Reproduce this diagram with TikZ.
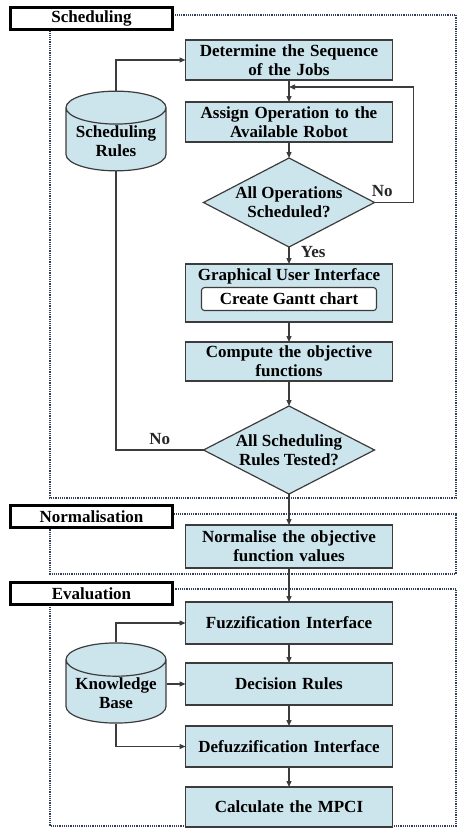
\documentclass[tikz,border=0pt]{standalone}
\usepackage{fontspec}
\setmainfont{Liberation Serif}
\usetikzlibrary{positioning,shapes.geometric,arrows.meta}

\definecolor{boxblue}{RGB}{204,228,236}
\definecolor{edgegray}{RGB}{60,60,60}
\definecolor{dotblue}{RGB}{50,62,90}

\newcommand{\boxfont}{\fontsize{17}{19}\selectfont\bfseries}

\tikzset{
  procbox/.style={draw=edgegray, line width=1.4pt, fill=boxblue, minimum width=207pt, minimum height=40pt, text width=200pt, align=center, inner sep=1pt, outer sep=0pt, font=\boxfont},
  decision/.style={diamond, draw=edgegray, line width=1.2pt, fill=boxblue, aspect=1.9, inner sep=0pt, outer sep=0pt, minimum width=171pt, minimum height=89pt},
  dectext/.style={align=center, font=\boxfont},
  store/.style={cylinder, shape border rotate=90, draw=edgegray, line width=1.2pt, fill=boxblue, aspect=0.4, minimum width=100pt, minimum height=72pt, align=center, inner sep=1pt, font=\boxfont, anchor=shape center},
  phase/.style={draw=black, line width=2.4pt, fill=white, minimum width=162pt, minimum height=22pt, inner sep=0pt, font=\boxfont},
  frame/.style={draw=dotblue, densely dotted, line width=1.2pt},
  flow/.style={draw=edgegray, line width=1.2pt, -{Triangle[length=6pt,width=5pt]}},
  link/.style={draw=edgegray, line width=1.2pt},
  answer/.style={font=\boxfont, text=black!85}
}

\begin{document}
\begin{tikzpicture}[x=1pt, y=-1pt]
    \useasboundingbox (0,0) rectangle (464,830);

    % dotted frames of the three phases
    \draw[frame] (50,15) rectangle (456,498);
    \draw[frame] (50,514) rectangle (456,574);
    \draw[frame] (50,589) rectangle (456,826);

    \node[phase] (sched) at (91.5,18.5) {Scheduling};
    \node[phase] (norm) at (91.5,516.5) {Normalisation};
    \node[phase] (eval) at (91.5,593.5) {Evaluation};

    % scheduling
    \node[procbox] (det) at (289,60) {Determine the Sequence\\of the Jobs};
    \node[procbox, below=22pt of det] (assign) {Assign Operation to the\\Available Robot};
    \node[decision, below=16pt of assign, label={[dectext]center:All Operations\\Scheduled?}] (allop) {};
    \node[procbox, below=17pt of allop, minimum height=58pt] (gui) {};
    \node[anchor=north, font=\boxfont, inner sep=2pt] (guitxt) at ([yshift=-2pt]gui.north) {Graphical User Interface};
    \node[draw=edgegray, line width=1.1pt, fill=white, rounded corners=3pt, minimum width=175pt, minimum height=23pt, inner sep=0pt, font=\boxfont, below=1pt of guitxt] (gantt) {Create Gantt chart};
    \node[procbox, below=20pt of gui, minimum height=39pt] (objf) {Compute the objective\\functions};
    \node[decision, below=25pt of objf, minimum height=88pt, label={[dectext]center:All Scheduling\\Rules Tested?}] (alltest) {};
    \node[store] (rules) at (116,131) {Scheduling\\Rules};
    \coordinate[below=7pt of det] (loopin);

    % normalisation
    \node[procbox, below=31pt of alltest, minimum height=43pt] (normv) {Normalise the objective\\function values};

    % evaluation
    \node[procbox, below=34pt of normv, minimum height=42pt] (fuzz) {Fuzzification Interface};
    \node[procbox, below=19pt of fuzz, minimum height=42pt] (rulesdec) {Decision Rules};
    \node[procbox, below=21pt of rulesdec, minimum height=41pt] (defuzz) {Defuzzification Interface};
    \node[procbox, below=20pt of defuzz] (mpci) {Calculate the MPCI};
    \node[store] (kb) at (116,683) {Knowledge\\Base};

    \draw[flow] (det) -- (assign);
    \draw[flow] (assign) -- (allop);
    \draw[flow] (allop) -- node[answer, right, pos=0.3, xshift=8pt] {Yes} (gui);
    \draw[flow] (allop.east) -- node[answer, above, pos=0.2, yshift=2pt] {No} ++(39,0) |- (loopin);
    \draw[flow] (gui) -- (objf);
    \draw[flow] (objf) -- (alltest);
    \draw[link] (alltest.west) -| node[answer, above, pos=0.25, yshift=1pt] {No} (rules.south);
    \draw[flow] (rules.north) |- (det.west);
    \draw[flow] (alltest) -- (normv);
    \draw[flow] (normv) -- (fuzz);
    \draw[flow] (fuzz) -- (rulesdec);
    \draw[flow] (rulesdec) -- (defuzz);
    \draw[flow] (defuzz) -- (mpci);
    \draw[flow] (kb.north) |- (fuzz.west);
    \draw[flow] (kb.east |- rulesdec) -- (rulesdec.west);
    \draw[flow] (kb.south) |- (defuzz.west);
\end{tikzpicture}
\end{document}
